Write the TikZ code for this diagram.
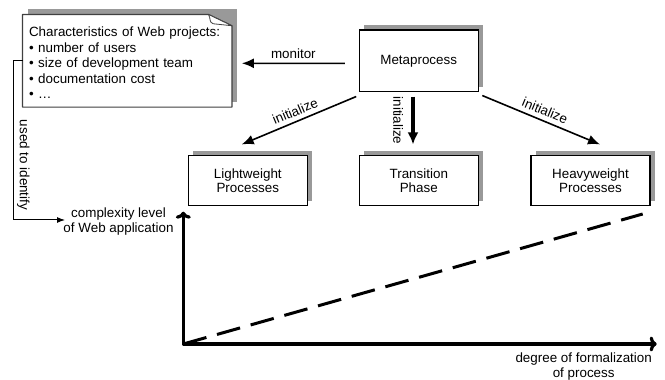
\documentclass[tikz,border=0pt]{standalone}
\usepackage{fontspec}
\setmainfont{Liberation Sans}
\usetikzlibrary{arrows.meta,shadows,backgrounds}

\begin{document}
\begin{tikzpicture}[x=1pt,y=1pt,
  font=\fontsize{13.4}{14.8}\selectfont,
  shadowfill/.style={fill=black!40},
  procbox/.style={draw, line width=1.1pt, fill=white, minimum width=119pt,
    minimum height=50pt, align=center, inner sep=0pt,
    drop shadow={shadow xshift=5pt,shadow yshift=5pt,opacity=1,fill=black!40}},
  notebox/.style={minimum width=209pt, minimum height=92.3pt, inner sep=0pt},
  notetext/.style={inner sep=0pt, text width=197pt, align=left,
    font=\fontsize{13.4}{15.5}\selectfont},
  noteline/.style={draw=black!75, line width=1.2pt, fill=white, line join=round},
  flow/.style={line width=1.6pt, -{Latex[length=12pt,width=10pt]}},
  thickflow/.style={line width=3.2pt, -{Latex[length=12pt,width=11pt]}},
  axis/.style={line width=3.2pt, line join=round, {To[length=7pt,width=15pt]}-{To[length=7pt,width=15pt]}},
  trend/.style={line width=3pt, dash pattern=on 24pt off 11pt},
  idline/.style={line width=1pt, -{Latex[length=8pt,width=6pt]}},
  caption/.style={align=center, inner sep=0pt},
]
\useasboundingbox (0,0) rectangle (665,380);

% characteristics note with folded corner
\node[notebox] (note) at (127.2,319.2) {};
\node[notetext, anchor=north west] (notetext) at ([shift={(6.3pt,-12.3pt)}]note.north west)
  {Characteristics of Web projects:\\
   \textbullet{} number of users\\
   \textbullet{} size of development team\\
   \textbullet{} documentation cost\\
   \textbullet{} …};
\begin{scope}[on background layer]
  \fill[shadowfill] ([shift={(5pt,5pt)}]note.south west) rectangle ([shift={(5pt,5pt)}]note.north east);
  \path[noteline] (note.north west) -- ([xshift=-23.4pt]note.north east)
    -- ([yshift=-11.3pt]note.north east) -- (note.south east) -- (note.south west) -- cycle;
  \path[noteline, line width=0.8pt] ([xshift=-23.4pt]note.north east)
    .. controls ([shift={(-21pt,-4pt)}]note.north east) and ([shift={(-23pt,-8pt)}]note.north east)
    .. ([shift={(-18.7pt,-9.3pt)}]note.north east) -- ([yshift=-11.3pt]note.north east) -- cycle;
\end{scope}

% process boxes
\node[procbox, minimum width=118.7pt, minimum height=61.7pt] (meta) at (418.7,319.15) {Metaprocess};
\node[procbox] (light) at (247.8,199.3) {Lightweight\\Processes};
\node[procbox] (trans) at (418.8,199.3) {Transition\\Phase};
\node[procbox] (heavy) at (590.5,199.3) {Heavyweight\\Processes};

% connectors from the metaprocess
\draw[flow] ([xshift=-14pt,yshift=-2.5pt]meta.west) -- node[above=1pt]{monitor} ([xshift=10pt,yshift=-2.5pt]note.east);
\draw[flow] ([xshift=-2.6pt,yshift=-4.3pt]meta.south west) -- node[sloped,above=1pt]{initialize} ([xshift=-6.1pt,yshift=10.7pt]light.north);
\draw[thickflow] ([xshift=-5.7pt,yshift=-4.3pt]meta.south) -- node[sloped,below=5pt]{initialize} ([xshift=-5.8pt,yshift=10.7pt]trans.north);
\draw[flow] ([xshift=3.7pt,yshift=-3.3pt]meta.south east) -- node[sloped,above=1pt]{initialize} ([xshift=9.5pt,yshift=10.7pt]heavy.north);

% axes of the chart
\coordinate (o) at (183.3,36);
\coordinate (ytop) at (183.3,168.3);
\coordinate (xend) at (656.7,36);
\coordinate (dend) at (642.7,166);
\draw[axis] (ytop) -- (o) -- (xend);
\draw[trend] (o) -- (dend);

\node[caption] (cx) at (118.5,158.3) {complexity level\\of Web application};
\node[caption] (dx) at (583.7,13.8) {degree of formalization\\of process};

% link from the note to the vertical axis label
\coordinate (idtip) at (65,160);
\draw[idline] (note.west) -- ++(-9.4,0) |- (idtip);
\node[rotate=-90, inner sep=0pt] (usedlbl) at (23.3,215) {used to identify};
\end{tikzpicture}
\end{document}
